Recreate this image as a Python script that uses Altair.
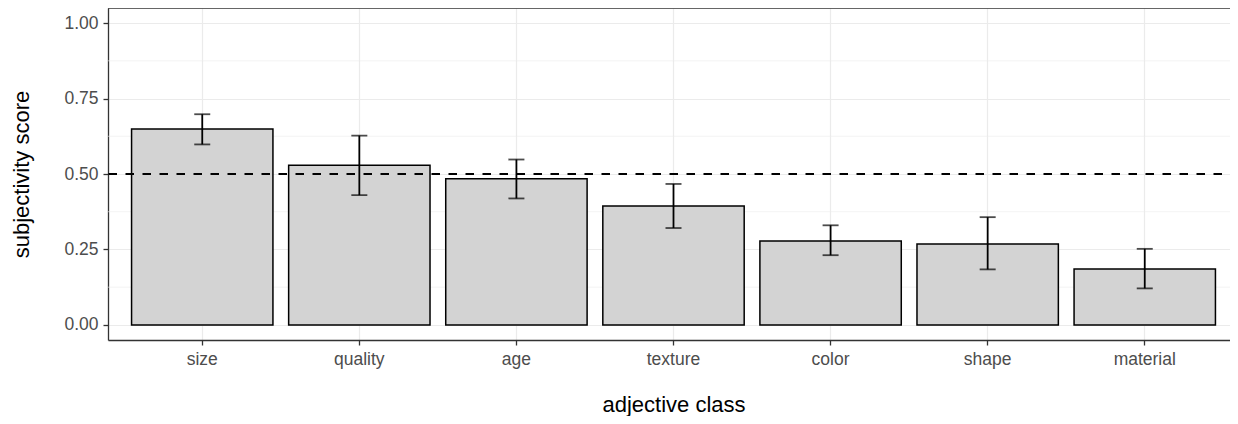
import altair as alt
import pandas as pd

classes = ["size", "quality", "age", "texture", "color", "shape", "material"]
means = [0.649, 0.529, 0.484, 0.394, 0.278, 0.268, 0.185]
lows = [0.598, 0.430, 0.419, 0.321, 0.231, 0.184, 0.121]
highs = [0.698, 0.627, 0.548, 0.467, 0.330, 0.357, 0.252]
major_breaks = [0.0, 0.25, 0.5, 0.75, 1.0]
minor_breaks = [0.125, 0.375, 0.625, 0.875]
reference = [0.5]

df = pd.DataFrame({"cls": classes, "score": means, "lo": lows, "hi": highs})
minor_df = pd.DataFrame({"y": minor_breaks})
ref_df = pd.DataFrame({"y": reference})

FONT = "Liberation Sans"
BORDER = "#333333"
axis_style = dict(
    domain=True,
    domainColor=BORDER,
    domainWidth=1.3,
    grid=True,
    gridColor="#EBEBEB",
    gridWidth=1.2,
    tickColor=BORDER,
    tickWidth=1.3,
    tickSize=5,
    labelFont=FONT,
    labelFontSize=17.5,
    labelColor="#4D4D4D",
    titleFont=FONT,
    titleFontSize=22,
    titleFontWeight="normal",
    titleColor="black",
)

xscale = alt.Scale(paddingInner=0.1, paddingOuter=0.15)
yscale = alt.Scale(domain=[-0.05, 1.05], nice=False, zero=False)

xenc = alt.X(
    "cls:N",
    sort=classes,
    title="adjective class",
    scale=xscale,
    axis=alt.Axis(
        bandPosition=0.5,
        labelAngle=0,
        labelPadding=5,
        titlePadding=27,
        **axis_style,
    ),
)

minor = alt.Chart(minor_df).mark_rule(color="#EBEBEB", strokeWidth=0.6).encode(
    y=alt.Y("y:Q", scale=yscale)
)

bars = alt.Chart(df).mark_bar(
    color="#D3D3D3", stroke="black", strokeWidth=1.5
).encode(
    x=xenc,
    y=alt.Y(
        "score:Q",
        scale=yscale,
        title="subjectivity score",
        axis=alt.Axis(
            values=major_breaks,
            format=".2f",
            labelPadding=5,
            titleX=-87,
            titleBaseline="middle",
            **axis_style,
        ),
    ),
)

err = alt.Chart(df).mark_rule(color="black", strokeWidth=1.8).encode(
    x=alt.X("cls:N", sort=classes),
    y=alt.Y("lo:Q", scale=yscale),
    y2="hi:Q",
)
cap_lo = alt.Chart(df).mark_tick(color="black", size=16, thickness=1.8).encode(
    x=alt.X("cls:N", sort=classes), y=alt.Y("lo:Q", scale=yscale)
)
cap_hi = alt.Chart(df).mark_tick(color="black", size=16, thickness=1.8).encode(
    x=alt.X("cls:N", sort=classes), y=alt.Y("hi:Q", scale=yscale)
)

hline = alt.Chart(ref_df).mark_rule(
    color="black", strokeWidth=1.9, strokeDash=[8.5, 8.5]
).encode(y=alt.Y("y:Q", scale=yscale))

# top edge of the panel border
top_border = alt.Chart(ref_df).mark_rule(color=BORDER, strokeWidth=1.3).encode(
    y=alt.value(0)
)

chart = (
    alt.layer(minor, bars, err, cap_lo, cap_hi, hline, top_border)
    .properties(
        width=1131,
        height=332,
        autosize=alt.AutoSizeParams(type="none"),
        padding={"left": 100, "top": 0, "right": -9, "bottom": 76},
    )
    .configure_view(stroke=None)
)

chart.save("out.html", embed_options={"renderer": "svg", "actions": False})
